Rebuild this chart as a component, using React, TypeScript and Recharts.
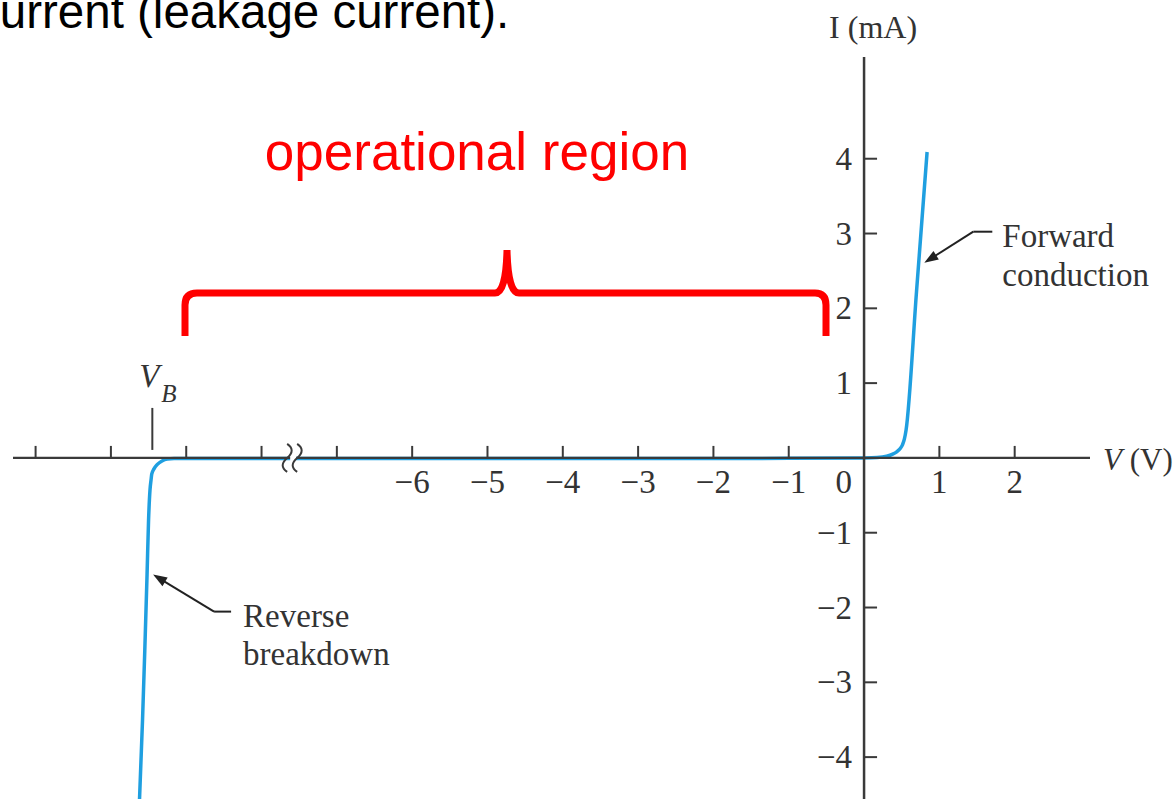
import { LineChart, Line, XAxis, YAxis, ReferenceLine, ReferenceDot } from 'recharts'

// diode I-V curve (V in volts, I in mA)
const forwardV = [0, 0.173, 0.3, 0.38, 0.438, 0.48, 0.51, 0.535, 0.558, 0.697, 0.837]
const forwardI = [0, 0.005, 0.022, 0.05, 0.085, 0.125, 0.175, 0.25, 0.374, 2.23, 4.09]

// left of the axis break the scale is only schematic
const reverseV = [-9.62, -9.58, -9.55, -9.52, -9.5, -9.481, -9.467, -9.458, -9.428, -9.383, -9.322, -9.251, -9.161, -8, -6, -3, -1, 0]
const reverseI = [-4.56, -3.5, -2.57, -1.56, -0.83, -0.428, -0.294, -0.218, -0.147, -0.086, -0.04, -0.014, -0.008, -0.008, -0.008, -0.008, -0.006, 0]

const xTicks = [-6, -5, -4, -3, -2, -1, 1, 2]
const xTicksPastBreak = [-11, -10, -9, -8, -7]
const yTicks = [4, 3, 2, 1, -1, -2, -3, -4]
const vBreakdown = -9.45
const axisBreakAt = -7.58

const xDomain = [-11.3, 3]
const yDomain = [-4.56, 5.36]

const forwardData = forwardV.map((v, k) => ({ v, i: forwardI[k] }))
const reverseData = reverseV.map((v, k) => ({ v, i: reverseI[k] }))

const AXIS = '#3a3a3a'
const TEXT = '#333'
const BLUE = '#1f9fe0'
const SERIF = "'Liberation Serif', 'DejaVu Serif', serif"
const SANS = "'Liberation Sans', Arial, sans-serif"

const fmt = (t: number) => (t < 0 ? '\u2212' + Math.abs(t) : String(t))

const XTick = ({ cx, cy, label }: any) => (
  <g>
    <line x1={cx} y1={cy} x2={cx} y2={cy - 12} stroke={AXIS} strokeWidth={2} />
    {label != null && (
      <text x={cx} y={cy + 35} textAnchor="middle" fontFamily={SERIF} fontSize={33} fill={TEXT}>
        {label}
      </text>
    )}
  </g>
)

const YTick = ({ cx, cy, label }: any) => (
  <g>
    <line x1={cx} y1={cy} x2={cx + 13} y2={cy} stroke={AXIS} strokeWidth={2} />
    <text x={cx - 12} y={cy + 11} textAnchor="end" fontFamily={SERIF} fontSize={33} fill={TEXT}>
      {label}
    </text>
  </g>
)

const Arrow = ({ x1, y1, x2, y2 }: any) => {
  // arrow from (x1,y1) pointing to (x2,y2)
  const dx = x2 - x1
  const dy = y2 - y1
  const len = Math.sqrt(dx * dx + dy * dy)
  const ux = dx / len
  const uy = dy / len
  const bx = x2 - ux * 14
  const by = y2 - uy * 14
  return (
    <g>
      <line x1={x1} y1={y1} x2={bx + ux * 2} y2={by + uy * 2} stroke="#222" strokeWidth={2} />
      <polygon points={`${x2},${y2} ${bx - uy * 5},${by + ux * 5} ${bx + uy * 5},${by - ux * 5}`} fill="#222" />
    </g>
  )
}

const ForwardNote = ({ cx, cy }: any) => (
  <g>
    <line x1={cx + 49} y1={cy - 31} x2={cx + 68} y2={cy - 31} stroke="#222" strokeWidth={2} />
    <Arrow x1={cx + 49} y1={cy - 31} x2={cx} y2={cy} />
    <text x={cx + 78} y={cy - 16} fontFamily={SERIF} fontSize={33} fill={TEXT}>Forward</text>
    <text x={cx + 78} y={cy + 23} fontFamily={SERIF} fontSize={33} fill={TEXT}>conduction</text>
  </g>
)

const ReverseNote = ({ cx, cy }: any) => (
  <g>
    <line x1={cx + 61} y1={cy + 37} x2={cx + 78} y2={cy + 37} stroke="#222" strokeWidth={2} />
    <Arrow x1={cx + 61} y1={cy + 37} x2={cx} y2={cy} />
    <text x={cx + 90} y={cy + 52} fontFamily={SERIF} fontSize={33} fill={TEXT}>Reverse</text>
    <text x={cx + 90} y={cy + 90} fontFamily={SERIF} fontSize={33} fill={TEXT}>breakdown</text>
  </g>
)

const VbMark = ({ cx, cy }: any) => (
  <g>
    <line x1={cx} y1={cy - 8} x2={cx} y2={cy - 50} stroke={AXIS} strokeWidth={2} />
    <text x={cx - 13} y={cy - 71} fontFamily={SERIF} fontStyle="italic" fontSize={33} fill={TEXT}>V</text>
    <text x={cx + 9} y={cy - 56} fontFamily={SERIF} fontStyle="italic" fontSize={25} fill={TEXT}>B</text>
  </g>
)

const BreakMark = ({ cx, cy }: any) => (
  <g fill="none" stroke={AXIS} strokeWidth={2}>
    <rect x={cx - 3} y={cy - 3} width={6} height={6} fill="#fff" stroke="none" />
    <path d={`M${cx - 6},${cy - 14} c6,4 6,9 0,14 s-6,10 0,14`} />
    <path d={`M${cx + 4},${cy - 14} c6,4 6,9 0,14 s-6,10 0,14`} />
  </g>
)

const ITitle = ({ cx, cy }: any) => (
  <text x={cx + 9} y={cy - 19} textAnchor="middle" fontFamily={SERIF} fontSize={32} fill={TEXT}>
    I (mA)
  </text>
)

const VTitle = ({ cx, cy }: any) => (
  <text x={cx + 13} y={cy + 12} fontFamily={SERIF} fontSize={31} fill={TEXT}>
    <tspan fontStyle="italic">V</tspan> (V)
  </text>
)

const ZeroLabel = ({ cx, cy }: any) => (
  <text x={cx - 12} y={cy + 35} textAnchor="end" fontFamily={SERIF} fontSize={33} fill={TEXT}>
    0
  </text>
)

export default function App() {
  return (
    <div style={{ position: 'absolute', left: 0, top: 0, width: 1175, height: 799, overflow: 'hidden', background: '#fff' }}>
      <LineChart width={1175} height={799} margin={{ top: 57, right: 85, bottom: 0, left: 13 }}>
        <XAxis type="number" dataKey="v" domain={xDomain} hide allowDataOverflow />
        <YAxis type="number" dataKey="i" domain={yDomain} hide allowDataOverflow />
        <Line data={reverseData} dataKey="i" type="monotone" stroke={BLUE} strokeWidth={3.5} dot={false} isAnimationActive={false} />
        <Line data={forwardData} dataKey="i" type="monotone" stroke={BLUE} strokeWidth={3.5} dot={false} isAnimationActive={false} />
        <ReferenceLine segment={[{ x: xDomain[0], y: 0 }, { x: xDomain[1], y: 0 }]} stroke={AXIS} strokeWidth={2.2} />
        <ReferenceLine segment={[{ x: 0, y: yDomain[0] }, { x: 0, y: yDomain[1] }]} stroke={AXIS} strokeWidth={2.5} />
        {xTicksPastBreak.map((t) => (
          <ReferenceDot key={'b' + t} x={t} y={0} r={0} shape={(p: any) => <XTick {...p} />} />
        ))}
        {xTicks.map((t) => (
          <ReferenceDot key={'x' + t} x={t} y={0} r={0} shape={(p: any) => <XTick {...p} label={fmt(t)} />} />
        ))}
        {yTicks.map((t) => (
          <ReferenceDot key={'y' + t} x={0} y={t} r={0} shape={(p: any) => <YTick {...p} label={fmt(t)} />} />
        ))}
        <ReferenceDot x={0} y={0} r={0} shape={(p: any) => <ZeroLabel {...p} />} />
        <ReferenceDot x={axisBreakAt} y={0} r={0} shape={(p: any) => <BreakMark {...p} />} />
        <ReferenceDot x={vBreakdown} y={0} r={0} shape={(p: any) => <VbMark {...p} />} />
        <ReferenceDot x={0} y={yDomain[1]} r={0} ifOverflow="visible" shape={(p: any) => <ITitle {...p} />} />
        <ReferenceDot x={xDomain[1]} y={0} r={0} ifOverflow="visible" shape={(p: any) => <VTitle {...p} />} />
        <ReferenceDot x={0.8} y={2.61} r={0} shape={(p: any) => <ForwardNote {...p} />} />
        <ReferenceDot x={-9.44} y={-1.56} r={0} shape={(p: any) => <ReverseNote {...p} />} />
      </LineChart>
      <svg width={1175} height={799} style={{ position: 'absolute', left: 0, top: 0, pointerEvents: 'none' }}>
        <text x={-24} y={28} fontFamily={SANS} fontSize={47.5} fill="#000">current (leakage current).</text>
        <text x={477} y={170} textAnchor="middle" fontFamily={SANS} fontSize={53} fill="#ff0000">operational region</text>
        <path
          d="M185,336 L185,305 Q185,293 197,293 L495,293 Q506,293 507,250 Q508,293 519,293 L815,293 Q826,293 826,305 L826,336"
          fill="none"
          stroke="#ff0000"
          strokeWidth={7}
        />
      </svg>
    </div>
  )
}
